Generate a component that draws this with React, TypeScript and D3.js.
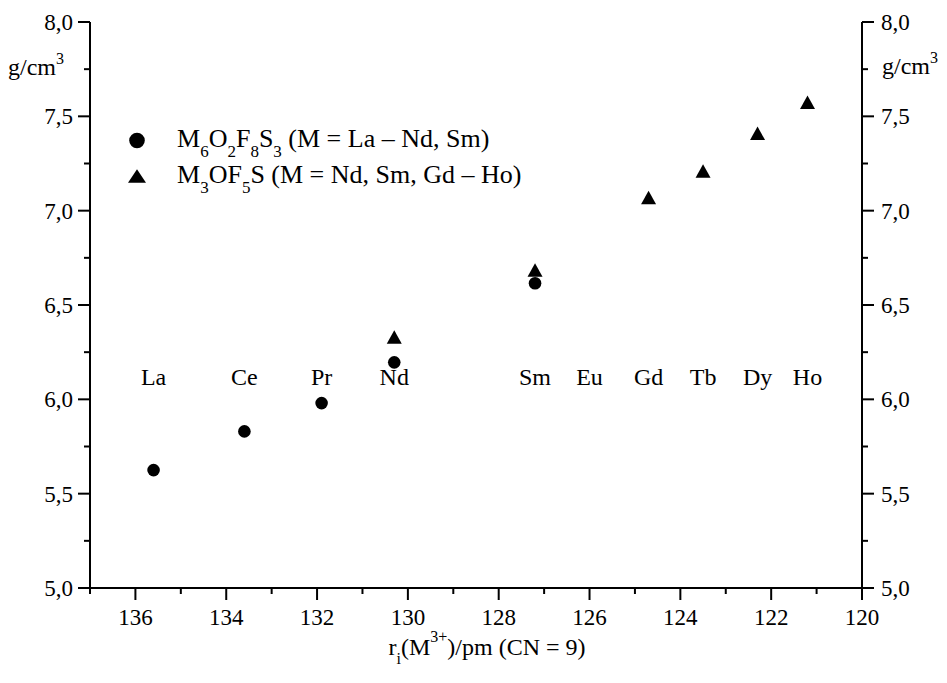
import React from "react";
import * as d3 from "d3";

const W = 947;
const H = 683;

// Lanthanide ionic radii r_i(M3+) in pm, CN = 9
const elements = ["La", "Ce", "Pr", "Nd", "Sm", "Eu", "Gd", "Tb", "Dy", "Ho"];
const radii = [135.6, 133.6, 131.9, 130.3, 127.2, 126.0, 124.7, 123.5, 122.3, 121.2];

// M6O2F8S3 densities (g/cm3)
const s1Elements = ["La", "Ce", "Pr", "Nd", "Sm"];
const s1Density = [5.625, 5.83, 5.98, 6.196, 6.615];

// M3OF5S densities (g/cm3)
const s2Elements = ["Nd", "Sm", "Gd", "Tb", "Dy", "Ho"];
const s2Density = [6.33, 6.685, 7.07, 7.21, 7.41, 7.575];

const xMajor = [136, 134, 132, 130, 128, 126, 124, 122, 120];
const xMinor = [137, 135, 133, 131, 129, 127, 125, 123, 121];
const yMajor = [5.0, 5.5, 6.0, 6.5, 7.0, 7.5, 8.0];
const yMinor = [5.25, 5.75, 6.25, 6.75, 7.25, 7.75];

const elementLabelLevel = 6.075;

const FONT = "Liberation Serif";
const TICK_FS = 23;
const LABEL_FS = 24;
const LEGEND_FS = 26;
const LEGEND_SUB = 17;
const SUP = 16;

export default function App() {
  const x = d3.scaleLinear().domain([137, 120]).range([90, 862]);
  const y = d3.scaleLinear().domain([5, 8]).range([588, 22]);
  const fmt = (v: number) => d3.format(".1f")(v).replace(".", ",");
  const radiusOf = (el: string) => radii[elements.indexOf(el)];

  const [x0, x1] = x.range();
  const [y0, y1] = y.range();
  const major = 12;
  const minor = 6;
  const sw = 2;

  const tri = (cx: number, cy: number, w = 15, h = 13.5) =>
    `M${cx},${cy - h / 2}L${cx + w / 2},${cy + h / 2}L${cx - w / 2},${cy + h / 2}Z`;

  return (
    <svg
      width={W}
      height={H}
      style={{ position: "absolute", left: 0, top: 0, background: "#fff", fontFamily: FONT }}
      fill="#000"
    >
      <rect x={0} y={0} width={W} height={H} fill="#fff" />

      {/* axes lines */}
      <g stroke="#000" strokeWidth={sw} fill="none">
        <line x1={x0} x2={x0} y1={y1} y2={y0} />
        <line x1={x1} x2={x1} y1={y1} y2={y0} />
        <line x1={x0} x2={x1} y1={y0} y2={y0} />
        {/* bottom ticks */}
        {xMajor.map((v) => (
          <line key={"xM" + v} x1={x(v)} x2={x(v)} y1={y0} y2={y0 + major} />
        ))}
        {xMinor.map((v) => (
          <line key={"xm" + v} x1={x(v)} x2={x(v)} y1={y0} y2={y0 + minor} />
        ))}
        {/* left ticks */}
        {yMajor.map((v) => (
          <line key={"yLM" + v} x1={x0 - major} x2={x0} y1={y(v)} y2={y(v)} />
        ))}
        {yMinor.map((v) => (
          <line key={"yLm" + v} x1={x0 - minor} x2={x0} y1={y(v)} y2={y(v)} />
        ))}
        {/* right ticks */}
        {yMajor.map((v) => (
          <line key={"yRM" + v} x1={x1} x2={x1 + major} y1={y(v)} y2={y(v)} />
        ))}
        {yMinor.map((v) => (
          <line key={"yRm" + v} x1={x1} x2={x1 + minor} y1={y(v)} y2={y(v)} />
        ))}
      </g>

      {/* tick labels */}
      <g fontSize={TICK_FS}>
        {xMajor.map((v) => (
          <text key={"xl" + v} x={x(v)} y={625} textAnchor="middle">
            {v}
          </text>
        ))}
        {yMajor.map((v) => (
          <text key={"yl" + v} x={x0 - major - 5} y={y(v)} dy="0.35em" textAnchor="end">
            {fmt(v)}
          </text>
        ))}
        {yMajor.map((v) => (
          <text key={"yr" + v} x={x1 + major + 7} y={y(v)} dy="0.35em" textAnchor="start">
            {fmt(v)}
          </text>
        ))}
      </g>

      {/* unit labels */}
      <text x={64} y={75} fontSize={LABEL_FS} textAnchor="end">
        g/cm<tspan dy={-11} fontSize={SUP}>3</tspan>
      </text>
      <text x={882} y={74} fontSize={LABEL_FS} textAnchor="start">
        g/cm<tspan dy={-11} fontSize={SUP}>3</tspan>
      </text>

      {/* x-axis title */}
      <text x={487} y={655} fontSize={LABEL_FS} textAnchor="middle">
        r<tspan dy={9} fontSize={SUP}>i</tspan>
        <tspan dy={-9}>(M</tspan>
        <tspan dy={-13} fontSize={SUP}>3+</tspan>
        <tspan dy={13}>)/pm (CN = 9)</tspan>
      </text>

      {/* element labels */}
      <g fontSize={LABEL_FS}>
        {elements.map((el, i) => (
          <text key={el} x={x(radii[i])} y={y(elementLabelLevel)} textAnchor="middle">
            {el}
          </text>
        ))}
      </g>

      {/* data: M6O2F8S3 */}
      {s1Elements.map((el, i) => (
        <circle key={"c" + el} cx={x(radiusOf(el))} cy={y(s1Density[i])} r={6.3} fill="#000" />
      ))}
      {/* data: M3OF5S */}
      {s2Elements.map((el, i) => (
        <path key={"t" + el} d={tri(x(radiusOf(el)), y(s2Density[i]))} fill="#000" />
      ))}

      {/* legend */}
      <circle cx={137} cy={140.5} r={7.8} fill="#000" />
      <text x={177} y={147} fontSize={LEGEND_FS}>
        M<tspan dy={10} fontSize={LEGEND_SUB}>6</tspan>
        <tspan dy={-10}>O</tspan>
        <tspan dy={10} fontSize={LEGEND_SUB}>2</tspan>
        <tspan dy={-10}>F</tspan>
        <tspan dy={10} fontSize={LEGEND_SUB}>8</tspan>
        <tspan dy={-10}>S</tspan>
        <tspan dy={10} fontSize={LEGEND_SUB}>3</tspan>
        <tspan dy={-10}> (M = La – Nd, Sm)</tspan>
      </text>
      <path d={tri(137, 176, 18, 13.5)} fill="#000" />
      <text x={177} y={183} fontSize={LEGEND_FS}>
        M<tspan dy={10} fontSize={LEGEND_SUB}>3</tspan>
        <tspan dy={-10}>OF</tspan>
        <tspan dy={10} fontSize={LEGEND_SUB}>5</tspan>
        <tspan dy={-10}>S (M = Nd, Sm, Gd – Ho)</tspan>
      </text>
    </svg>
  );
}
